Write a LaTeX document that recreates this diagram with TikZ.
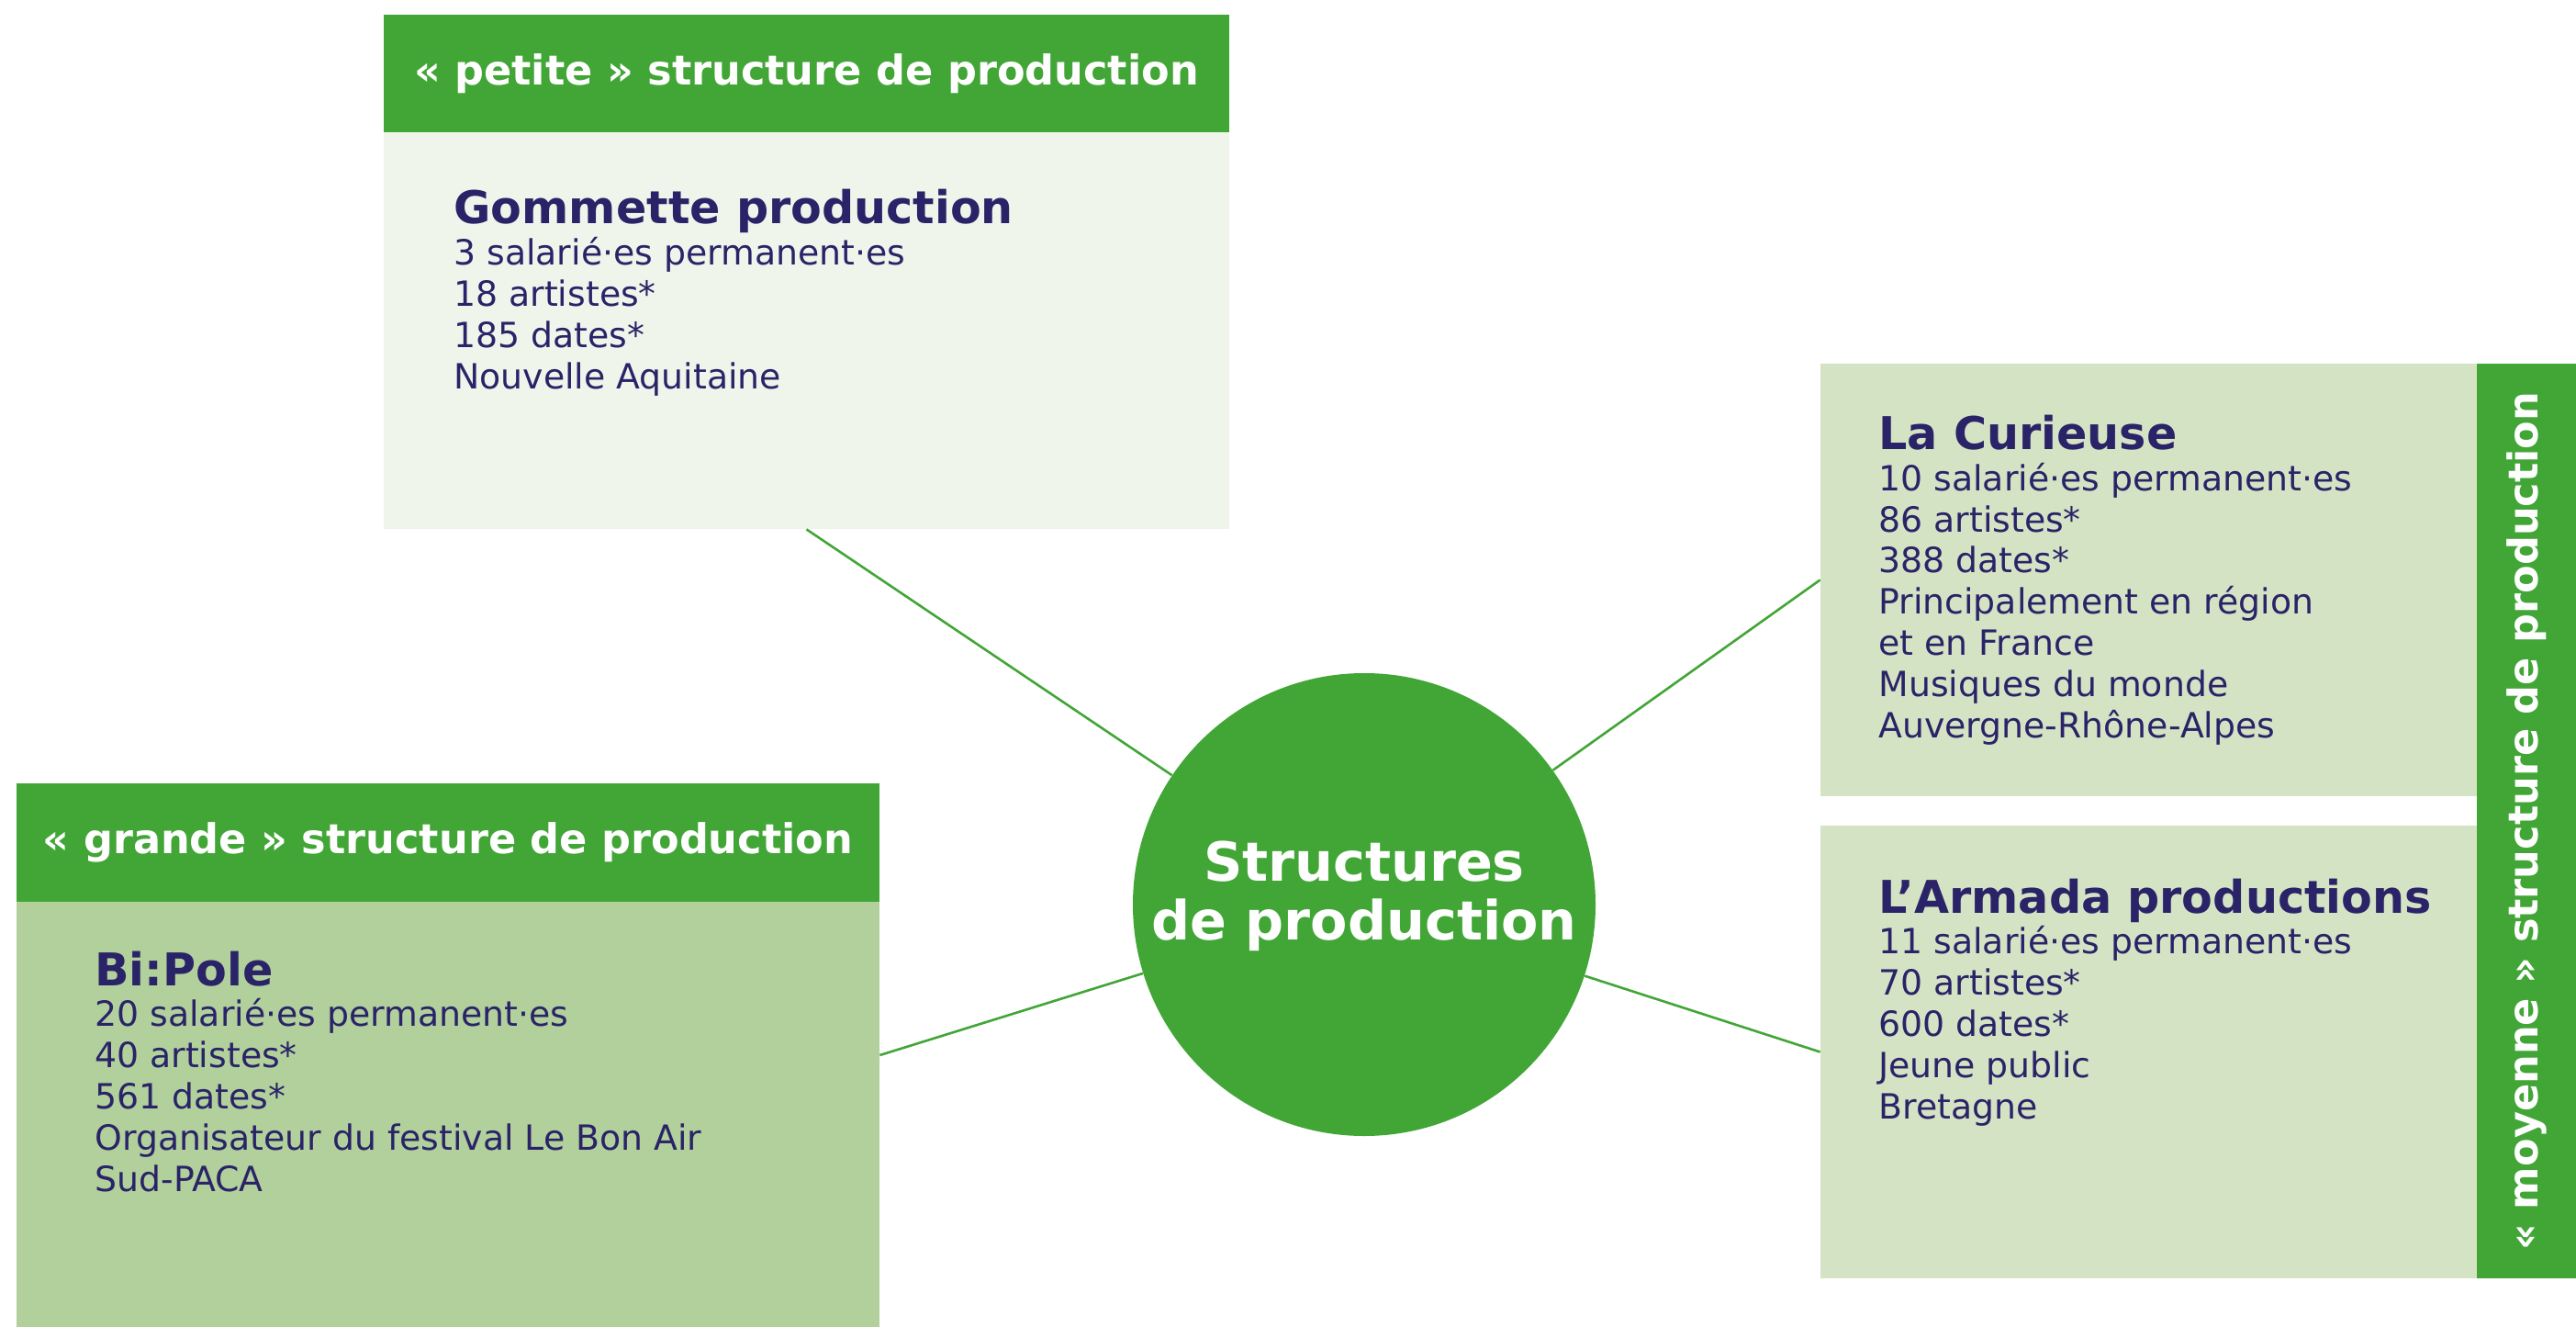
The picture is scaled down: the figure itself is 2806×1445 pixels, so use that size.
\documentclass[tikz,border=0pt]{standalone}
\usepackage{fontspec}
\setmainfont{DejaVu Sans}
\usepackage{tikz}

\definecolor{prodgreen}{HTML}{42A637}
\definecolor{prodnavy}{HTML}{2A2368}
\definecolor{palegreen}{HTML}{F0F5EB}
\definecolor{softgreen}{HTML}{D4E3C4}
\definecolor{midgreen}{HTML}{B1D09B}

\tikzset{
  box/.style={rectangle, inner sep=0pt, draw=none},
  headbox/.style={box, fill=prodgreen, text=white, font=\bfseries\fontsize{22.3pt}{26pt}\selectfont},
  infotext/.style={anchor=base west, inner sep=0pt, align=left, text=prodnavy, font=\fontsize{18.9pt}{22.4pt}\selectfont},
  link/.style={draw=prodgreen, line width=1.3pt},
}
\newcommand{\boxtitle}[1]{{\bfseries\fontsize{24.6pt}{22.4pt}\selectfont #1}}

\begin{document}
\begin{tikzpicture}[x=0.5pt, y=-0.5pt]
\useasboundingbox (0,0) rectangle (2806,1445);

\node[box, fill=palegreen, minimum width=460.5pt, minimum height=280pt] (petite) at (878.5,296) {};
\node[headbox, minimum width=460.5pt, minimum height=64pt] (petitehead) at (878.5,80) {« petite » structure de production};
\node[infotext] (gommette) at (494,423) {\boxtitle{Gommette production}\\3 salarié·es permanent·es\\18 artistes*\\185 dates*\\Nouvelle Aquitaine};

\node[box, fill=midgreen, minimum width=470pt, minimum height=296pt] (grande) at (488,1149) {};
\node[headbox, minimum width=470pt, minimum height=64.5pt] (grandehead) at (488,917.5) {« grande » structure de production};
\node[infotext] (bipole) at (103,1297) {\boxtitle{Bi:Pole}\\20 salarié·es permanent·es\\40 artistes*\\561 dates*\\Organisateur du festival Le Bon Air\\Sud-PACA};

\node[box, fill=softgreen, minimum width=357.5pt, minimum height=235.5pt] (curieuse) at (2340.5,631.5) {};
\node[infotext] (curieusetxt) at (2046,803) {\boxtitle{La Curieuse}\\10 salarié·es permanent·es\\86 artistes*\\388 dates*\\Principalement en région\\et en France\\Musiques du monde\\Auvergne-Rhône-Alpes};

\node[box, fill=softgreen, minimum width=357.5pt, minimum height=246.5pt] (armada) at (2340.5,1145.5) {};
\node[infotext] (armadatxt) at (2046,1218) {\boxtitle{L’Armada productions}\\11 salarié·es permanent·es\\70 artistes*\\600 dates*\\Jeune public\\Bretagne};

\node[headbox, rotate=90, minimum width=498pt, minimum height=54pt] (moyenne) at (2752,894) {« moyenne » structure de production};

\node[circle, fill=prodgreen, minimum size=252pt, inner sep=0pt, text=white, align=center, text depth=15.5pt, font=\bfseries\fontsize{29.4pt}{32pt}\selectfont] (hub) at (1486,985) {Structures\\de production};

\draw[link] (hub) -- (petite.south);
\draw[link] (hub) -- (curieuse.west);
\draw[link] (hub) -- (armada.west);
\draw[link] (hub) -- (grande.east);
\end{tikzpicture}
\end{document}
